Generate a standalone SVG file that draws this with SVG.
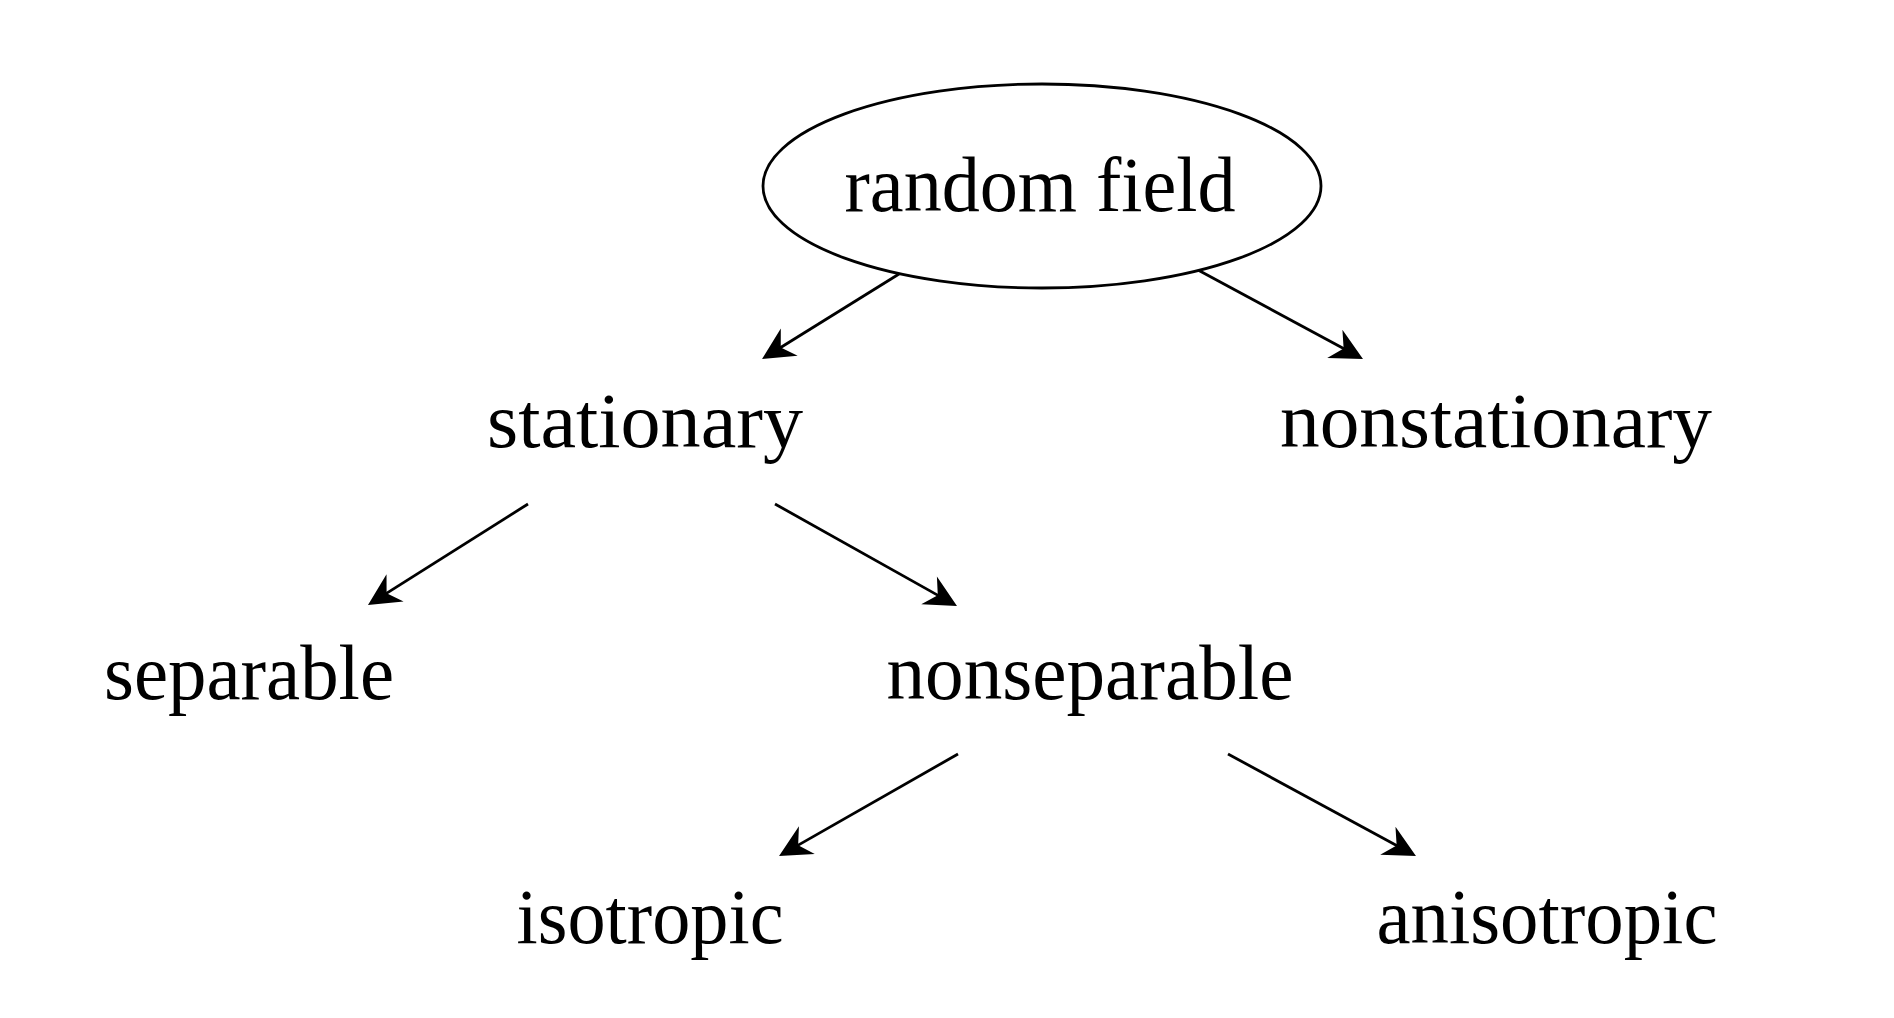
<svg xmlns="http://www.w3.org/2000/svg" width="1894" height="1018" viewBox="0 0 1894 1018">
<style>
  .lbl { font-family: "Liberation Serif", "DejaVu Serif", serif; font-size: 79px; fill: #000; text-anchor: middle; }
  .edge { stroke: #000; stroke-width: 2.8; fill: none; marker-end: url(#stealth); }
  .node-shape { fill: #fff; stroke: #000; stroke-width: 2.8; }
</style>
<defs>
  <marker id="stealth" markerUnits="userSpaceOnUse" viewBox="-24 -18 40 36" markerWidth="40" markerHeight="36" refX="0" refY="0" orient="auto" overflow="visible">
    <path d="M11,0 L-21,-16 L-11,0 L-21,16 Z" fill="#000"/>
  </marker>
</defs>
<rect width="1894" height="1018" fill="#fff"/>
<g id="connectors">
  <line class="edge" x1="899" y1="274" x2="771.4" y2="353.2"/>
  <line class="edge" x1="1198" y1="270" x2="1353.3" y2="353.8"/>
  <line class="edge" x1="528" y1="504" x2="377.3" y2="599.1"/>
  <line class="edge" x1="775" y1="504" x2="947.4" y2="600.6"/>
  <line class="edge" x1="958" y1="754" x2="788.6" y2="850.6"/>
  <line class="edge" x1="1228" y1="754" x2="1406.3" y2="850.8"/>
</g>
<g id="random-field">
  <ellipse class="node-shape" cx="1042" cy="186" rx="279" ry="102"/>
  <text class="lbl" x="1040" y="211" textLength="391" lengthAdjust="spacingAndGlyphs">random field</text>
</g>
<g id="stationary">
  <text class="lbl" x="645" y="447" textLength="316" lengthAdjust="spacingAndGlyphs">stationary</text>
</g>
<g id="nonstationary">
  <text class="lbl" x="1496" y="447" textLength="432" lengthAdjust="spacingAndGlyphs">nonstationary</text>
</g>
<g id="separable">
  <text class="lbl" x="249" y="699" textLength="290" lengthAdjust="spacingAndGlyphs">separable</text>
</g>
<g id="nonseparable">
  <text class="lbl" x="1090" y="699" textLength="407" lengthAdjust="spacingAndGlyphs">nonseparable</text>
</g>
<g id="isotropic">
  <text class="lbl" x="650" y="943" textLength="267" lengthAdjust="spacingAndGlyphs">isotropic</text>
</g>
<g id="anisotropic">
  <text class="lbl" x="1547" y="943" textLength="341" lengthAdjust="spacingAndGlyphs">anisotropic</text>
</g>
</svg>
